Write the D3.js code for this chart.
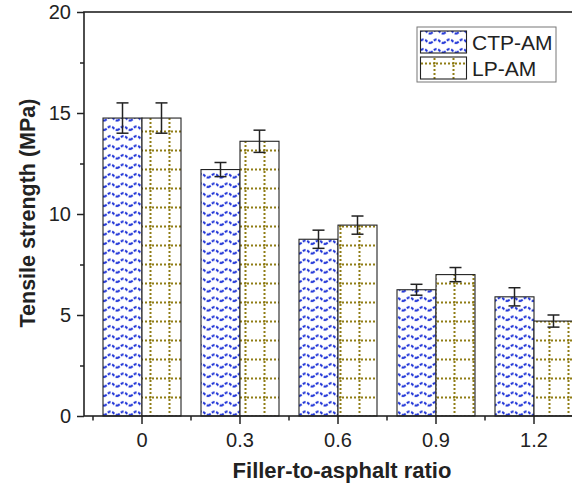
<!DOCTYPE html>
<html>
<head>
<meta charset="utf-8">
<script src="https://cdn.jsdelivr.net/npm/d3@7"></script>
<style>
  html, body { margin: 0; padding: 0; background: #fff; }
  svg { display: block; font-family: "Liberation Sans", Arial, sans-serif; }
</style>
</head>
<body>
<svg id="chart" width="572" height="491"></svg>
<script>
// Tensile strength of asphalt mastics by filler-to-asphalt ratio
const categories = ["0", "0.3", "0.6", "0.9", "1.2"];
const seriesNames = ["CTP-AM", "LP-AM"];
const ctpValues = [14.75, 12.2, 8.75, 6.25, 5.9];
const ctpErrors = [0.75, 0.35, 0.45, 0.27, 0.45];
const lpValues = [14.75, 13.6, 9.45, 7.0, 4.7];
const lpErrors = [0.75, 0.55, 0.45, 0.35, 0.3];
const yTicks = [0, 5, 10, 15, 20];
const yMinorTicks = [2.5, 7.5, 12.5, 17.5];

const blue = "#1a2fd6";
const olive = "#8f7c14";
const ink = "#222";

const svg = d3.select("#chart");
const defs = svg.append("defs");

// Wavy dashed blue fill
const wave = defs.append("pattern")
  .attr("id", "wave").attr("patternUnits", "userSpaceOnUse")
  .attr("width", 13).attr("height", 9.5);
wave.append("rect").attr("width", 13).attr("height", 9.5).attr("fill", "#fff");
wave.append("path")
  .attr("d", "M0,6.5 C3,6.5 3.5,3 6.5,3 C9.5,3 10,6.5 13,6.5")
  .attr("fill", "none").attr("stroke", blue)
  .attr("stroke-width", 2).attr("stroke-dasharray", "3,1.6");

// Dotted olive grid fill
const grid = defs.append("pattern")
  .attr("id", "grid").attr("patternUnits", "userSpaceOnUse")
  .attr("width", 19).attr("height", 19);
grid.append("rect").attr("width", 19).attr("height", 19).attr("fill", "#fff");
grid.append("path")
  .attr("d", "M0,17.5 H19 M17.5,0 V19")
  .attr("fill", "none").attr("stroke", olive)
  .attr("stroke-width", 2).attr("stroke-dasharray", "2,2");

const plot = { left: 84, right: 592, top: 12, bottom: 416 };

const x = d3.scaleBand().domain(categories).range([93, 583]).padding(0);
const y = d3.scaleLinear().domain([0, 20]).range([plot.bottom, plot.top]);
const barW = 39;

defs.append("clipPath").attr("id", "clip")
  .append("rect").attr("x", 0).attr("y", 0).attr("width", 572).attr("height", 491);

const g = svg.append("g").attr("clip-path", "url(#clip)");

const data = categories.map((c, i) => ({
  cat: c,
  series: [
    { name: seriesNames[0], v: ctpValues[i], e: ctpErrors[i], fill: "url(#wave)", off: -barW },
    { name: seriesNames[1], v: lpValues[i], e: lpErrors[i], fill: "url(#grid)", off: 0 }
  ]
}));

const center = c => x(c) + x.bandwidth() / 2;

// Bars
data.forEach(d => {
  d.series.forEach(s => {
    g.append("rect")
      .attr("x", center(d.cat) + s.off)
      .attr("y", y(s.v))
      .attr("width", barW)
      .attr("height", y(0) - y(s.v))
      .attr("fill", s.fill)
      .attr("stroke", ink).attr("stroke-width", 1.1);
  });
});

// Error bars
data.forEach(d => {
  d.series.forEach(s => {
    const cx = center(d.cat) + s.off + barW / 2;
    const eg = g.append("g").attr("stroke", ink).attr("stroke-width", 1.5);
    eg.append("line").attr("x1", cx).attr("x2", cx).attr("y1", y(s.v + s.e)).attr("y2", y(s.v - s.e));
    eg.append("line").attr("x1", cx - 6).attr("x2", cx + 6).attr("y1", y(s.v + s.e)).attr("y2", y(s.v + s.e));
    eg.append("line").attr("x1", cx - 6).attr("x2", cx + 6).attr("y1", y(s.v - s.e)).attr("y2", y(s.v - s.e));
  });
});

// Frame
g.append("rect")
  .attr("x", plot.left).attr("y", plot.top)
  .attr("width", plot.right - plot.left).attr("height", plot.bottom - plot.top)
  .attr("fill", "none").attr("stroke", ink).attr("stroke-width", 1.6);

// Y axis
const yAxis = svg.append("g").attr("transform", `translate(${plot.left},0)`)
  .call(d3.axisLeft(y).tickValues(yTicks).tickSize(7).tickPadding(6).tickFormat(d3.format("d")));
yAxis.select(".domain").remove();
yAxis.selectAll(".tick line").attr("stroke", ink).attr("stroke-width", 1.5);
yAxis.selectAll(".tick text").attr("font-size", 20).attr("fill", ink)
  .attr("font-family", "Liberation Sans, Arial, sans-serif");
const yMinor = svg.append("g").attr("transform", `translate(${plot.left},0)`)
  .call(d3.axisLeft(y).tickValues(yMinorTicks).tickSize(4).tickFormat(""));
yMinor.select(".domain").remove();
yMinor.selectAll(".tick line").attr("stroke", ink).attr("stroke-width", 1.5);

// X axis
const xAxis = svg.append("g").attr("transform", `translate(0,${plot.bottom})`)
  .call(d3.axisBottom(x).tickSize(8).tickPadding(9));
xAxis.select(".domain").remove();
xAxis.selectAll(".tick line").attr("stroke", ink).attr("stroke-width", 1.5);
xAxis.selectAll(".tick text").attr("font-size", 20).attr("fill", ink)
  .attr("font-family", "Liberation Sans, Arial, sans-serif");
const xMinor = svg.append("g").attr("transform", `translate(0,${plot.bottom})`);
x.domain().forEach(c => {
  xMinor.append("line")
    .attr("x1", x(c)).attr("x2", x(c)).attr("y1", 0).attr("y2", 4.5)
    .attr("stroke", ink).attr("stroke-width", 1.5);
});

// Axis titles
svg.append("text")
  .attr("x", 342).attr("y", 478)
  .attr("text-anchor", "middle").attr("font-size", 22).attr("font-weight", "bold")
  .attr("fill", ink).text("Filler-to-asphalt ratio");
svg.append("text")
  .attr("transform", "translate(35,213) rotate(-90)")
  .attr("text-anchor", "middle").attr("font-size", 21.5).attr("font-weight", "bold")
  .attr("fill", ink).text("Tensile strength (MPa)");

// Legend
const lg = svg.append("g").attr("transform", "translate(417,27)");
lg.append("rect").attr("width", 139).attr("height", 55)
  .attr("fill", "#fff").attr("stroke", "#777").attr("stroke-width", 1);
[["url(#wave)", seriesNames[0]], ["url(#grid)", seriesNames[1]]].forEach(([f, name], i) => {
  lg.append("rect").attr("x", 3.5).attr("y", 4 + i * 26).attr("width", 46).attr("height", 22)
    .attr("fill", f).attr("stroke", ink).attr("stroke-width", 1.1);
  lg.append("text").attr("x", 55).attr("y", 23 + i * 26)
    .attr("font-size", 21).attr("fill", ink).text(name);
});
</script>
</body>
</html>
